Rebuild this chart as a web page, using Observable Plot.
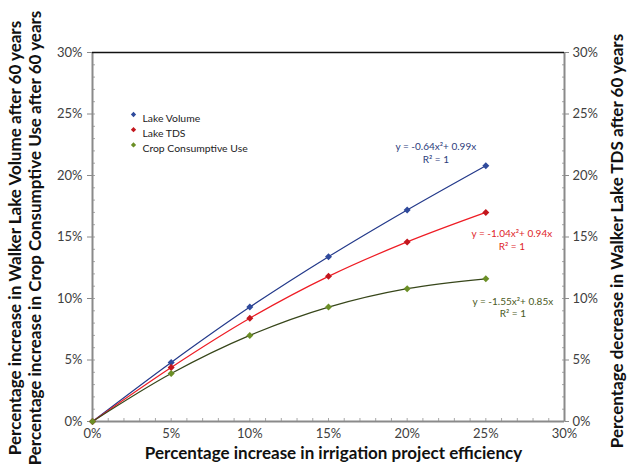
<!DOCTYPE html>
<html>
<head>
<meta charset="utf-8">
<script src="https://cdn.jsdelivr.net/npm/d3@7"></script>
<script src="https://cdn.jsdelivr.net/npm/@observablehq/plot@0.6"></script>
<style>
  html, body { margin: 0; padding: 0; background: #fff; }
  #chart { width: 627px; height: 471px; }
</style>
</head>
<body>
<div id="chart"></div>
<script>
// Irrigation efficiency increase (%) on the x axis
const efficiency = [0, 5, 10, 15, 20, 25];

// Simulated responses after 60 years (%)
const lakeVolume = [0, 4.8, 9.3, 13.4, 17.2, 20.8];
const lakeTDS = [0, 4.4, 8.4, 11.8, 14.6, 17.0];
const cropUse = [0, 3.9, 7.0, 9.3, 10.8, 11.6];

const seriesNames = ["Lake Volume", "Lake TDS", "Crop Consumptive Use"];
const trendEquations = [
  "y = -0.64x\u00b2+ 0.99x\nR\u00b2 = 1",
  "y = -1.04x\u00b2+ 0.94x\nR\u00b2 = 1",
  "y = -1.55x\u00b2+ 0.85x\nR\u00b2 = 1"
];

const majorTicks = [0, 5, 10, 15, 20, 25, 30];
const minorTicks = d3.range(0, 31, 1);

const titleLeft = "Percentage increase in Walker Lake Volume after 60 years\nPercentage increase in Crop Consumptive Use after 60 years";
const titleRight = "Percentage decrease in Walker Lake TDS after 60 years";
const titleBottom = "Percentage increase in irrigation project efficiency";

// styling per series
const styles = [
  {line: "#23398a", dot: "#2f4a9c", text: "#2d3c7c", dx: -50, dy: -13},
  {line: "#ee1c24", dot: "#c3161d", text: "#e0252b", dx: 26, dy: 27},
  {line: "#37461a", dot: "#6b8f26", text: "#4b5a24", dx: 27, dy: 28}
];

const values = [lakeVolume, lakeTDS, cropUse];
const series = seriesNames.map((name, i) =>
  efficiency.map((x, j) => ({series: name, x, y: values[i][j]}))
);

const fontFamily = "Lato, 'Open Sans', sans-serif";
const axisGray = "#8a8a8a";

const marks = [
  // minor ticks pointing inside the frame
  Plot.axisY(minorTicks, {anchor: "left", tickSize: 3, dx: 3, tickFormat: () => "", label: null, stroke: "#a8a8a8"}),
  Plot.axisY(minorTicks, {anchor: "right", tickSize: 3, dx: -3, tickFormat: () => "", label: null, stroke: "#a8a8a8"}),
  Plot.axisX(minorTicks, {anchor: "bottom", tickSize: 3, dy: -3, tickFormat: () => "", label: null, stroke: "#a8a8a8"}),
  // major ticks and labels
  Plot.axisY(majorTicks, {anchor: "left", tickSize: 5, tickPadding: 5, tickFormat: d => d + "%", label: null, stroke: axisGray, fill: "#404040", fontSize: 13}),
  Plot.axisY(majorTicks, {anchor: "right", tickSize: 4, tickPadding: 4, tickFormat: d => d + "%", label: null, stroke: axisGray, fill: "#404040", fontSize: 13}),
  Plot.axisX(majorTicks, {anchor: "bottom", tickSize: 0, tickPadding: 7, tickFormat: d => d + "%", label: null, fill: "#404040", fontSize: 13}),
  // frame
  Plot.ruleX([0, 30], {stroke: axisGray, strokeWidth: 2}),
  Plot.ruleY([0], {stroke: axisGray, strokeWidth: 2}),
  Plot.ruleY([30], {stroke: "#111", strokeWidth: 1.5}),
];

series.forEach((data, i) => {
  const s = styles[i];
  marks.push(Plot.line(data, {x: "x", y: "y", stroke: s.line, strokeWidth: 1.2, curve: "catmull-rom"}));
});
series.forEach((data, i) => {
  const s = styles[i];
  marks.push(Plot.dot(data, {x: "x", y: "y", symbol: "square", rotate: 45, r: 2.8, fill: s.dot, stroke: null}));
});
series.forEach((data, i) => {
  const s = styles[i];
  const last = data[data.length - 1];
  marks.push(Plot.text([last], {x: "x", y: "y", text: () => trendEquations[i], dx: s.dx, dy: s.dy,
    fill: s.text, fontSize: 10, lineHeight: 1.25, textAnchor: "middle"}));
});

// legend
seriesNames.forEach((name, i) => {
  marks.push(Plot.dot([name], {frameAnchor: "top-left", dx: 41, dy: 62 + i * 15.2, symbol: "square", rotate: 45, r: 2.1, fill: styles[i].dot, stroke: null}));
  marks.push(Plot.text([name], {frameAnchor: "top-left", dx: 50, dy: 62 + i * 15.2, textAnchor: "start", fontSize: 10.4, fill: "#222"}));
});

// axis titles
marks.push(Plot.text([titleLeft], {frameAnchor: "left", rotate: -90, dx: -68, dy: 1, textAnchor: "middle", fontSize: 17, fontWeight: "bold", lineHeight: 1.15, fill: "#111"}));
marks.push(Plot.text([titleRight], {frameAnchor: "right", rotate: -90, dx: 53, dy: 4, textAnchor: "middle", fontSize: 17, fontWeight: "bold", fill: "#111"}));
marks.push(Plot.text([titleBottom], {frameAnchor: "bottom", dx: 5, dy: 37, textAnchor: "middle", fontSize: 17, fontWeight: "bold", fill: "#111"}));

const chart = Plot.plot({
  width: 627,
  height: 471,
  marginLeft: 92,
  marginRight: 63,
  marginTop: 52,
  marginBottom: 50,
  x: {domain: [0, 30], axis: null},
  y: {domain: [0, 30], axis: null},
  style: {fontFamily, fontSize: "13px", background: "#fff", overflow: "visible"},
  marks
});
document.getElementById("chart").appendChild(chart);
</script>
</body>
</html>
